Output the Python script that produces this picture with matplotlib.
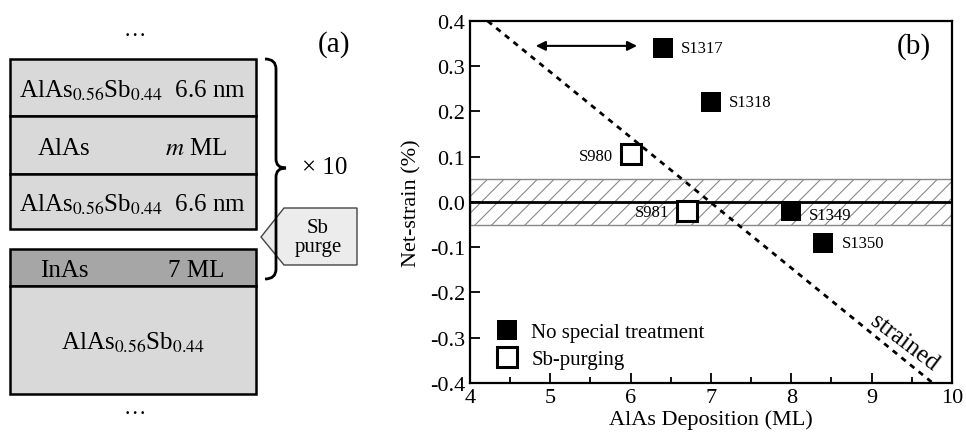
import matplotlib
matplotlib.use("Agg")
import matplotlib.pyplot as plt
from matplotlib.patches import Rectangle, Polygon, PathPatch
from matplotlib.path import Path
from matplotlib.lines import Line2D

plt.rcParams['font.family'] = 'serif'
plt.rcParams['font.serif'] = ['Liberation Serif', 'DejaVu Serif']
plt.rcParams['mathtext.fontset'] = 'stix'
plt.rcParams['axes.unicode_minus'] = False
plt.rcParams['hatch.linewidth'] = 0.8

# ---- panel (a): layer stack ----
period_layers = ["AlAs$_{0.56}$Sb$_{0.44}$", "AlAs", "AlAs$_{0.56}$Sb$_{0.44}$"]
period_thick = ["6.6 nm", "$m$ ML", "6.6 nm"]
lower_layers = ["InAs", "AlAs$_{0.56}$Sb$_{0.44}$"]
lower_thick = ["7 ML", ""]
repeats = 10

# ---- panel (b): net strain ----
x_plain = [6.4, 7.0, 8.0, 8.4]
y_plain = [0.34, 0.22, -0.02, -0.09]
names_plain = ["S1317", "S1318", "S1349", "S1350"]

x_purge = [6.0, 6.7]
y_purge = [0.105, -0.02]
names_purge = ["S980", "S981"]

strained_x = [4.22, 9.76]
strained_y = [0.4, -0.4]
band_lo, band_hi = -0.05, 0.05

fig = plt.figure(figsize=(9.66, 4.39), dpi=100)

# schematic drawn in pixel coordinates
ax_a = fig.add_axes([0, 0, 1, 1])
ax_a.set_xlim(0, 966)
ax_a.set_ylim(439, 0)
ax_a.axis('off')

light = '#d9d9d9'
dark = '#a6a6a6'
x0, x1 = 10, 256
period_edges = [60, 117, 175, 230]
lower_edges = [250, 287, 395]

def draw_row(top, bot, name, thick, color):
    ax_a.add_patch(Rectangle((x0, top), x1 - x0, bot - top, facecolor=color,
                             edgecolor='black', lw=1.8))
    base = (top + bot) / 2 + 9
    if "Sb" in name:
        s = name + ("  " + thick if thick else "")
        ax_a.text((x0 + x1) / 2, base, s, fontsize=18, ha='center', va='baseline')
    else:
        ax_a.text(64, base, name, fontsize=18, ha='center', va='baseline')
        ax_a.text(196, base, thick, fontsize=18, ha='center', va='baseline')

for i, (n, t) in enumerate(zip(period_layers, period_thick)):
    draw_row(period_edges[i], period_edges[i + 1], n, t, light)
for i, (n, t) in enumerate(zip(lower_layers, lower_thick)):
    draw_row(lower_edges[i], lower_edges[i + 1], n, t, dark if i == 0 else light)

ax_a.text(135, 32, "…", fontsize=16, ha='center', va='center')
ax_a.text(135, 410, "…", fontsize=16, ha='center', va='center')
ax_a.text(334, 45, "(a)", fontsize=21, ha='center', va='center')

# Sb purge callout
ax_a.add_patch(Polygon([(261, 238), (284, 209), (357, 209), (357, 266), (284, 266)],
                       closed=True, facecolor='#ececec', edgecolor='#444444', lw=1))
ax_a.text(318, 238, "Sb\npurge", fontsize=15, ha='center', va='center',
          multialignment='center', linespacing=1.0)

# curly brace (drawn over the callout)
verts = [(265, 60), (276, 60), (276, 70), (276, 160), (276, 169), (286, 169),
         (276, 169), (276, 178), (276, 270), (276, 280), (265, 280)]
codes = [Path.MOVETO, Path.CURVE3, Path.CURVE3, Path.LINETO, Path.CURVE3, Path.CURVE3,
         Path.CURVE3, Path.CURVE3, Path.LINETO, Path.CURVE3, Path.CURVE3]
ax_a.add_patch(PathPatch(Path(verts, codes), facecolor='none', edgecolor='black',
                         lw=2, zorder=3))
ax_a.text(325, 168, "× %d" % repeats, fontsize=18, ha='center', va='center')

# ---- panel (b) ----
ax = fig.add_axes([0.4865, 0.1253, 0.4990, 0.8246])
ax.fill_between([4, 10], band_lo, band_hi, facecolor='white', edgecolor='#888888',
                hatch='//', lw=1, zorder=1)
ax.axhline(0, color='black', lw=2, zorder=2)
ax.plot(strained_x, strained_y, color='black', lw=2, ls=(0, (2, 2)), zorder=3)

ax.plot(x_plain, y_plain, 's', ms=15, color='black', mec='black', mew=0, zorder=4)
ax.plot(x_purge, y_purge, 's', ms=14, mfc='white', mec='black', mew=2.2, zorder=4)

for x, y, n in zip(x_plain, y_plain, names_plain):
    dy = -3 if n == "S1349" else 0
    ax.annotate(n, (x, y), xytext=(13, dy), textcoords='offset points',
                ha='left', va='center', fontsize=12)
for x, y, n in zip(x_purge, y_purge, names_purge):
    ax.annotate(n, (x, y), xytext=(-13, -1), textcoords='offset points',
                ha='right', va='center', fontsize=12)

ax.annotate("", xy=(4.82, 0.345), xytext=(6.08, 0.345),
            arrowprops=dict(arrowstyle='<|-|>', color='black', lw=1.5,
                            mutation_scale=14, shrinkA=0, shrinkB=0))
ax.text(9.52, 0.345, "(b)", fontsize=21, ha='center', va='center')
ax.text(9.4, -0.31, "strained", fontsize=18, ha='center', va='center', rotation=-37)

handles = [Line2D([], [], ls='none', marker='s', ms=15, color='black', mew=0),
           Line2D([], [], ls='none', marker='s', ms=14, mfc='white', mec='black', mew=2.2)]
ax.legend(handles, ["No special treatment", "Sb-purging"], loc='lower left',
          bbox_to_anchor=(0.0125, -0.013), frameon=False, fontsize=15,
          handletextpad=0.55, labelspacing=0.35, handlelength=1.2)

ax.set_xlim(4, 10)
ax.set_ylim(-0.4, 0.4)
ax.set_xticks(range(4, 11))
ax.set_xticks([4.5 + i for i in range(6)], minor=True)
ax.set_yticks([-0.4 + 0.1 * i for i in range(9)])
ax.set_yticklabels(["%.1f" % (-0.4 + 0.1 * i) for i in range(9)])
ax.tick_params(direction='in', labelsize=16, width=1.3, length=7, top=False, right=False)
ax.tick_params(which='minor', direction='in', width=1.3, length=4)
for s in ax.spines.values():
    s.set_linewidth(1.6)
ax.set_xlabel("AlAs Deposition (ML)", fontsize=16, labelpad=2)
ax.set_ylabel("Net-strain (%)", fontsize=16, labelpad=6)

fig.savefig("out.png", dpi=100)
